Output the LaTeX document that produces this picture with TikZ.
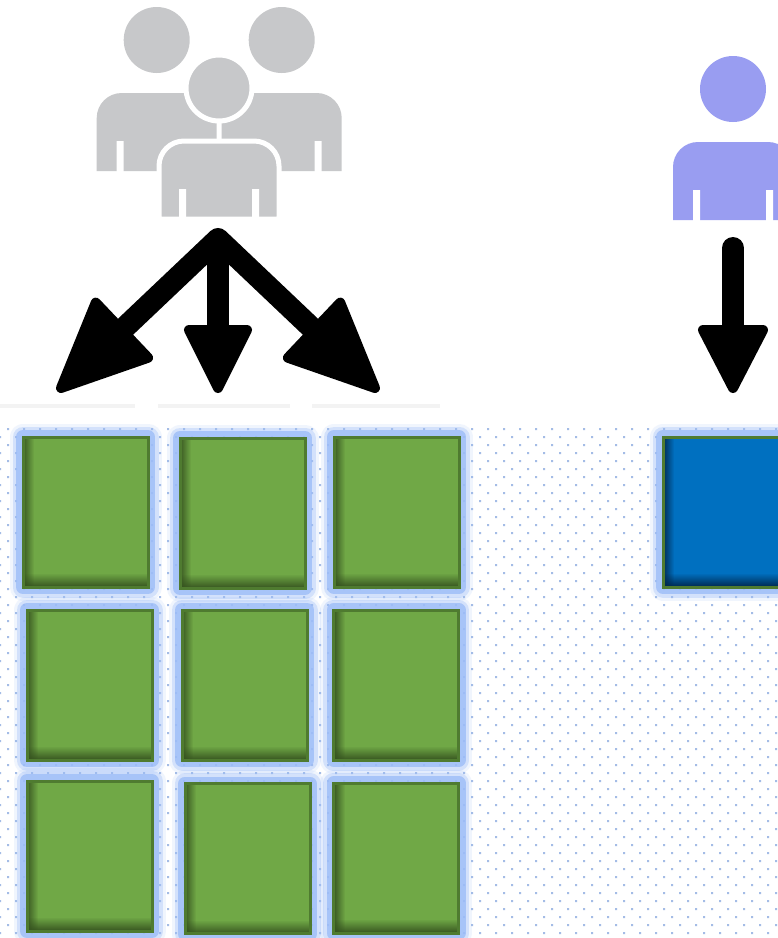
\documentclass[tikz,border=0pt]{standalone}
\usetikzlibrary{calc}
\definecolor{iconGray}{HTML}{C7C8CA}
\definecolor{iconPurple}{HTML}{999DF1}
\definecolor{boxGreen}{HTML}{70A846}
\definecolor{boxBorder}{HTML}{4F7B30}
\definecolor{shadowGreen}{HTML}{35521F}
\definecolor{blueFill}{HTML}{0070C0}
\definecolor{blueShadow}{HTML}{00264A}
\definecolor{glowBlue}{HTML}{9DBDF8}
\definecolor{dotBlue}{HTML}{A4BCE6}
\definecolor{faintGray}{HTML}{F3F3F3}
\tikzset{
  person/.pic={
    \path[pic actions] (-60,131) -- (-60,78) arc[start angle=180,end angle=270,radius=25]
      -- (35,53) arc[start angle=270,end angle=360,radius=25] -- (60,131) -- cycle;
    \path[pic actions] (0,0) circle[radius=33];
    \fill[white] (-40,101) rectangle (-33,132) (33,101) rectangle (40,132);
  },
  shaft/.style={line width=22pt, line join=round},
  headtip/.style={fill=black, draw=black, line width=10pt, line join=round},
  tilebase/.style={line width=3pt, minimum width=125pt, minimum height=150pt, inner sep=0pt,
    preaction={draw=glowBlue, line width=27pt, opacity=0.15, line join=round},
    preaction={draw=glowBlue, line width=21pt, opacity=0.35, line join=round},
    preaction={draw=glowBlue, line width=14pt, opacity=0.8, line join=round},
    path picture={
      \foreach \i in {0,...,10}{
        \pgfmathsetmacro\op{0.9*(1-\i/11)}
        \fill[tileshadow, opacity=\op]
          ([xshift=\i pt]path picture bounding box.south west) rectangle
          ([xshift=\i pt+1pt]path picture bounding box.north west);
      }
      \foreach \i in {0,...,12}{
        \pgfmathsetmacro\op{0.9*(1-\i/13)}
        \fill[tileshadow, opacity=\op]
          ([yshift=\i pt]path picture bounding box.south west) rectangle
          ([yshift=\i pt+1pt]path picture bounding box.south east);
      }
    }},
  greentile/.style={tilebase, draw=boxBorder, fill=boxGreen,
    /utils/exec={\colorlet{tileshadow}{shadowGreen}}},
  bluetile/.style={tilebase, draw=boxBorder, fill=blueFill,
    /utils/exec={\colorlet{tileshadow}{blueShadow}}},
  faintline/.style={draw=faintGray, line width=4pt}
}
\begin{document}
\begin{tikzpicture}[x=1pt,y=-1pt]
\useasboundingbox (0,0) rectangle (778,938);
\fill[white] (0,0) rectangle (778,938);

% dotted grid
\foreach \r in {0,...,63}{
  \pgfmathsetmacro\yy{429+8*\r}
  \pgfmathsetmacro\xo{mod(\r,2)==0 ? 8 : 0}
  \fill[dotBlue] \foreach \k in {0,...,48}{ (\xo+16*\k-1,\yy-1) rectangle ++(2,2) };
}

% faint lines above the grid
\draw[faintline] (0,406) -- (135,406);
\draw[faintline] (158,406) -- (290,406);
\draw[faintline] (312,406) -- (440,406);

% people
\pic (backL) at (156.7,40) [fill=iconGray] {person};
\pic (backR) at (281.7,40) [fill=iconGray] {person};
\pic (front) at (219,88) [fill=iconGray, draw=white, line width=5pt] {person};
\pic (single) at (733,89) [fill=iconPurple] {person};

% arrows from the group
\coordinate (apex) at (218,239);
\coordinate (ltip) at (61,388);
\coordinate (mtip) at (218,388);
\coordinate (rtip) at (375,388);
\coordinate (lb) at ($(ltip)!84pt!(apex)$);
\coordinate (mb) at ($(mtip)!58pt!(apex)$);
\coordinate (rb) at ($(rtip)!84pt!(apex)$);
\draw[shaft] (lb) -- (apex) -- (rb);
\draw[shaft] (apex) -- (mb);
\filldraw[headtip] (ltip) -- ($(lb)!38pt!90:(ltip)$) -- ($(lb)!38pt!-90:(ltip)$) -- cycle;
\filldraw[headtip] (rtip) -- ($(rb)!38pt!90:(rtip)$) -- ($(rb)!38pt!-90:(rtip)$) -- cycle;
\filldraw[headtip] (mtip) -- ($(mb)!29pt!90:(mtip)$) -- ($(mb)!29pt!-90:(mtip)$) -- cycle;

% arrow of the single user
\coordinate (ptop) at (733,248);
\coordinate (ptip) at (733,388);
\coordinate (pb) at ($(ptip)!58pt!(ptop)$);
\draw[shaft, line cap=round] (ptop) -- (pb);
\filldraw[headtip] (ptip) -- ($(pb)!30pt!90:(ptip)$) -- ($(pb)!30pt!-90:(ptip)$) -- cycle;

% tiles
\node[greentile] (t11) at (85.5,512) {};
\node[greentile] (t12) at (242.5,513) {};
\node[greentile] (t13) at (396.5,512) {};
\node[greentile] (t21) at (89.5,685) {};
\node[greentile] (t22) at (244.5,685) {};
\node[greentile] (t23) at (396,685) {};
\node[greentile] (t31) at (89.5,856) {};
\node[greentile] (t32) at (247.5,858.5) {};
\node[greentile] (t33) at (396,858) {};
\node[bluetile] (tb) at (725.5,512) {};
\end{tikzpicture}
\end{document}
